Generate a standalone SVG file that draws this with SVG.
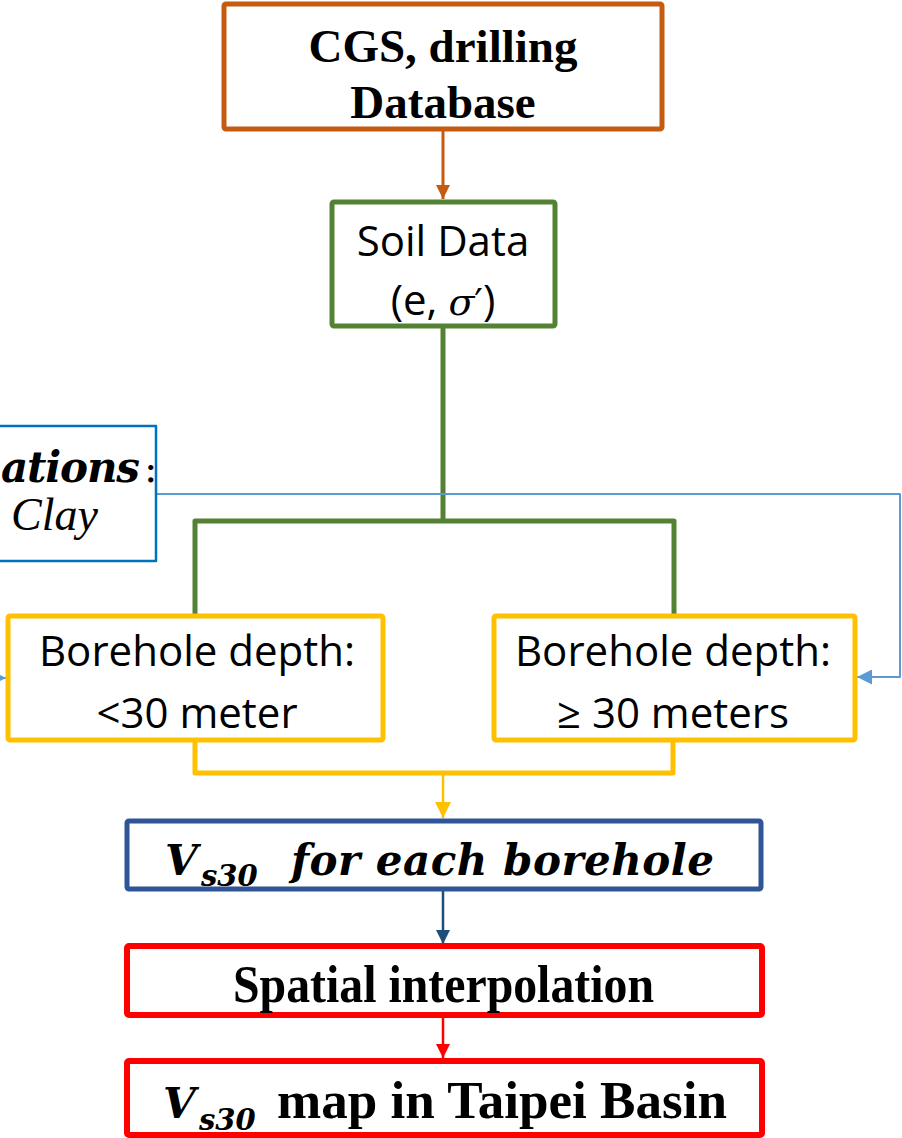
<svg xmlns="http://www.w3.org/2000/svg" width="902" height="1138" viewBox="0 0 902 1138">
  <defs>
    <style>
      .box{fill:#ffffff;stroke-linejoin:round}
      .serifb{font-family:"Liberation Serif","Times New Roman",serif;font-weight:bold;fill:#000}
      .sans{font-family:"Open Sans","Liberation Sans",sans-serif;font-size:42px;fill:#000;text-anchor:middle}
      .math{font-family:"DejaVu Serif",serif;font-style:italic;font-weight:bold;fill:#000}
      .conn{fill:none;stroke-linejoin:round}
    </style>
    <marker id="ahOrange" markerUnits="userSpaceOnUse" markerWidth="14" markerHeight="14" refX="14" refY="7" orient="auto">
      <path d="M0,0 L14,7 L0,14 z" fill="#C55A11"/>
    </marker>
    <marker id="ahYellow" markerUnits="userSpaceOnUse" markerWidth="16" markerHeight="16" refX="16" refY="8" orient="auto">
      <path d="M0,0 L16,8 L0,16 z" fill="#FFC000"/>
    </marker>
    <marker id="ahNavy" markerUnits="userSpaceOnUse" markerWidth="14" markerHeight="14" refX="14" refY="7" orient="auto">
      <path d="M0,0 L14,7 L0,14 z" fill="#1F4E79"/>
    </marker>
    <marker id="ahRed" markerUnits="userSpaceOnUse" markerWidth="14" markerHeight="14" refX="14" refY="7" orient="auto">
      <path d="M0,0 L14,7 L0,14 z" fill="#FF0000"/>
    </marker>
    <marker id="ahSky" markerUnits="userSpaceOnUse" markerWidth="15" markerHeight="15" refX="15" refY="7.5" orient="auto">
      <path d="M0,0 L15,7.5 L0,15 z" fill="#5B9BD5"/>
    </marker>
  </defs>

  <rect x="0" y="0" width="902" height="1138" fill="#ffffff"/>

  <!-- connectors -->
  <g id="connectors">
    <path class="conn" d="M443 129 V199" stroke="#C55A11" stroke-width="3" marker-end="url(#ahOrange)"/>
    <path class="conn" d="M443 326 V521" stroke="#548235" stroke-width="5"/>
    <path class="conn" d="M195 614 V521 H674 V614" stroke="#548235" stroke-width="5"/>
    <path class="conn" d="M157 494 H900 V677 H857" stroke="#5B9BD5" stroke-width="2" marker-end="url(#ahSky)"/>
    <path class="conn" d="M-30 678 H6" stroke="#5B9BD5" stroke-width="2" marker-end="url(#ahSky)"/>
    <path class="conn" d="M195 740 V773 H673 V740" stroke="#FFC000" stroke-width="5"/>
    <path class="conn" d="M443 773 V818" stroke="#FFC000" stroke-width="2.5" marker-end="url(#ahYellow)"/>
    <path class="conn" d="M443 889 V944" stroke="#1F4E79" stroke-width="2.5" marker-end="url(#ahNavy)"/>
    <path class="conn" d="M443 1015 V1058" stroke="#FF0000" stroke-width="2.5" marker-end="url(#ahRed)"/>
  </g>

  <!-- source database -->
  <g id="node-database">
    <rect class="box" x="224" y="4" width="438" height="125" rx="2" stroke="#C55A11" stroke-width="5"/>
    <text class="serifb" x="443" y="62" font-size="47" text-anchor="middle">CGS, drilling</text>
    <text class="serifb" x="443" y="118" font-size="47" text-anchor="middle">Database</text>
  </g>

  <!-- soil data -->
  <g id="node-soil">
    <rect class="box" x="332" y="202" width="223" height="124" rx="2" stroke="#548235" stroke-width="5"/>
    <text class="sans" x="443" y="256">Soil Data</text>
    <text class="sans" x="443" y="315">(e, <tspan font-family="DejaVu Serif, serif" font-style="italic" font-size="38">σ</tspan><tspan font-family="DejaVu Sans, sans-serif" font-size="38">′</tspan>)</text>
  </g>

  <!-- empirical relations (partly off the left edge) -->
  <g id="node-relations">
    <rect class="box" x="-10" y="426" width="166" height="135" stroke="#0070C0" stroke-width="2.5"/>
    <text class="math" x="1" y="482" font-size="42" textLength="139">ations</text>
    <text x="144" y="482" font-family="DejaVu Serif, serif" font-size="40" fill="#000">:</text>
    <text x="98" y="530" font-family="Liberation Serif, Times New Roman, serif" font-style="italic" font-size="46" fill="#000" text-anchor="end">Clay</text>
  </g>

  <!-- shallow boreholes -->
  <g id="node-shallow">
    <rect class="box" x="8" y="616" width="375" height="124" rx="2" stroke="#FFC000" stroke-width="5"/>
    <text class="sans" x="197" y="666">Borehole depth:</text>
    <text class="sans" x="197" y="728">&lt;30 meter</text>
  </g>

  <!-- deep boreholes -->
  <g id="node-deep">
    <rect class="box" x="494" y="616" width="361" height="124" rx="2" stroke="#FFC000" stroke-width="5"/>
    <text class="sans" x="673" y="666">Borehole depth:</text>
    <text class="sans" x="673" y="728">≥ 30 meters</text>
  </g>

  <!-- Vs30 per borehole -->
  <g id="node-vs30">
    <rect class="box" x="127" y="821" width="634" height="68" rx="2" stroke="#2F5597" stroke-width="5"/>
    <text class="math" x="165" y="875" font-size="42">V</text>
    <text class="math" x="201" y="886" font-size="29">s30</text>
    <text class="math" x="291" y="875" font-size="42" textLength="423">for each borehole</text>
  </g>

  <!-- interpolation -->
  <g id="node-interp">
    <rect class="box" x="127" y="946" width="635" height="69" rx="2" stroke="#FF0000" stroke-width="6"/>
    <text class="serifb" x="233" y="1002" font-size="52" textLength="421" lengthAdjust="spacingAndGlyphs">Spatial interpolation</text>
  </g>

  <!-- result map -->
  <g id="node-map">
    <rect class="box" x="127" y="1061" width="635" height="74" rx="2" stroke="#FF0000" stroke-width="6"/>
    <text class="math" x="163" y="1118" font-size="42">V</text>
    <text class="math" x="199" y="1130" font-size="29">s30</text>
    <text class="serifb" x="277" y="1118" font-size="52" textLength="450" lengthAdjust="spacingAndGlyphs">map in Taipei Basin</text>
  </g>
</svg>
